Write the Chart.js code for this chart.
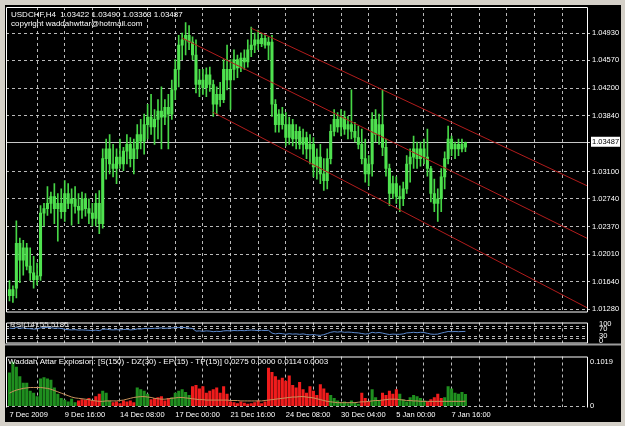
<!DOCTYPE html>
<html>
<head>
<meta charset="utf-8">
<title>USDCHF,H4</title>
<script src="https://cdn.jsdelivr.net/npm/chart.js@4/dist/chart.umd.min.js"></script>
<style>
  body { margin: 0; background: #d4d0c8; }
  #wrap { position: relative; width: 625px; height: 426px; overflow: hidden; background: #d4d0c8; }
  #black { position: absolute; left: 5px; top: 5px; width: 616px; height: 417px; background: #000; }
  canvas { position: absolute; left: 0; }
</style>
</head>
<body>
<div id="wrap">
  <div id="black"></div>
  <canvas id="priceChart" width="625" height="318" style="top:0px"></canvas>
  <canvas id="rsiChart" width="625" height="37" style="top:314px"></canvas>
  <canvas id="waeChart" width="625" height="77" style="top:349px"></canvas>
</div>
<script>
// USDCHF H4 candles, bar 0 = 7 Dec 2009 00:00
const open = [1.0154,1.0146,1.0156,1.0215,1.0193,1.0209,1.0185,1.0176,1.0167,1.0172,
  1.0255,1.0261,1.0268,1.0277,1.0261,1.0268,1.0257,1.0281,1.0268,1.0274,
  1.0264,1.0259,1.0274,1.0261,1.0255,1.0248,1.0268,1.0241,1.0327,1.0340,
  1.0320,1.0314,1.0329,1.0320,1.0337,1.0346,1.0327,1.0340,1.0359,1.0350,
  1.0372,1.0382,1.0369,1.0379,1.0390,1.0382,1.0395,1.0386,1.0418,1.0445,
  1.0477,1.0484,1.0490,1.0481,1.0464,1.0425,1.0431,1.0421,1.0438,1.0425,
  1.0399,1.0412,1.0405,1.0445,1.0431,1.0445,1.0458,1.0447,1.0460,1.0455,
  1.0471,1.0477,1.0484,1.0479,1.0486,1.0477,1.0481,1.0399,1.0372,1.0386,
  1.0372,1.0355,1.0372,1.0353,1.0363,1.0346,1.0355,1.0340,1.0346,1.0316,
  1.0329,1.0307,1.0298,1.0327,1.0363,1.0379,1.0369,1.0382,1.0366,1.0372,
  1.0363,1.0355,1.0346,1.0327,1.0307,1.0320,1.0379,1.0359,1.0372,1.0342,
  1.0314,1.0281,1.0294,1.0277,1.0274,1.0287,1.0320,1.0329,1.0340,1.0327,
  1.0340,1.0329,1.0314,1.0281,1.0268,1.0274,1.0303,1.0327,1.0353,1.0340,
  1.0346,1.0340,1.03422];
const high = [1.0166,1.0159,1.0245,1.0222,1.0219,1.0215,1.0209,1.0198,1.0189,1.0265,
  1.0268,1.0290,1.0283,1.0294,1.0281,1.0287,1.0298,1.0294,1.0287,1.0290,
  1.0281,1.0283,1.0281,1.0274,1.0268,1.0281,1.0285,1.0340,1.0353,1.0359,
  1.0346,1.0340,1.0353,1.0342,1.0359,1.0355,1.0353,1.0372,1.0379,1.0386,
  1.0399,1.0412,1.0392,1.0405,1.0422,1.0405,1.0412,1.0431,1.0458,1.0490,
  1.0493,1.0507,1.0503,1.0488,1.0484,1.0445,1.0445,1.0447,1.0448,1.0431,
  1.0422,1.0428,1.0458,1.0477,1.0458,1.0471,1.0464,1.0467,1.0471,1.0484,
  1.0501,1.0493,1.0497,1.0493,1.0490,1.0488,1.0490,1.0405,1.0392,1.0395,
  1.0388,1.0382,1.0379,1.0372,1.0369,1.0366,1.0362,1.0359,1.0355,1.0340,
  1.0346,1.0327,1.0340,1.0372,1.0392,1.0388,1.0392,1.0390,1.0383,1.0418,
  1.0375,1.0370,1.0366,1.0353,1.0331,1.0388,1.0392,1.0386,1.0418,1.0353,
  1.0320,1.0304,1.0303,1.0291,1.0296,1.0331,1.0340,1.0357,1.0349,1.0349,
  1.0353,1.0366,1.0317,1.0300,1.0287,1.0314,1.0336,1.0370,1.0357,1.0349,
  1.0353,1.0353,1.03490];
const low = [1.0139,1.0137,1.0143,1.0163,1.0173,1.0180,1.0166,1.0156,1.0160,1.0166,
  1.0238,1.0252,1.0255,1.0241,1.0218,1.0248,1.0244,1.0261,1.0239,1.0255,
  1.0241,1.0248,1.0251,1.0241,1.0238,1.0238,1.0228,1.0235,1.0300,1.0307,
  1.0303,1.0294,1.0314,1.0311,1.0320,1.0316,1.0307,1.0327,1.0340,1.0333,
  1.0353,1.0359,1.0346,1.0353,1.0340,1.0372,1.0340,1.0379,1.0405,1.0422,
  1.0458,1.0464,1.0471,1.0458,1.0414,1.0409,1.0412,1.0409,1.0416,1.0383,
  1.0386,1.0396,1.0401,1.0418,1.0392,1.0431,1.0434,1.0442,1.0445,1.0448,
  1.0462,1.0467,1.0471,1.0475,1.0473,1.0458,1.0383,1.0362,1.0362,1.0366,
  1.0344,1.0346,1.0344,1.0340,1.0340,1.0333,1.0327,1.0320,1.0303,1.0300,
  1.0294,1.0285,1.0287,1.0320,1.0357,1.0362,1.0357,1.0359,1.0353,1.0353,
  1.0349,1.0340,1.0320,1.0296,1.0291,1.0304,1.0349,1.0346,1.0331,1.0304,
  1.0265,1.0274,1.0268,1.0257,1.0265,1.0281,1.0296,1.0314,1.0314,1.0317,
  1.0320,1.0304,1.0270,1.0257,1.0244,1.0257,1.0287,1.0320,1.0331,1.0327,
  1.0331,1.0336,1.03363];
const close = [1.0146,1.0154,1.0215,1.0193,1.0209,1.0185,1.0176,1.0167,1.0172,1.0255,
  1.0261,1.0268,1.0277,1.0261,1.0268,1.0257,1.0281,1.0268,1.0274,1.0264,
  1.0259,1.0274,1.0261,1.0255,1.0248,1.0268,1.0241,1.0327,1.0340,1.0320,
  1.0314,1.0329,1.0320,1.0337,1.0346,1.0327,1.0340,1.0359,1.0350,1.0372,
  1.0382,1.0369,1.0379,1.0390,1.0382,1.0395,1.0386,1.0418,1.0445,1.0477,
  1.0484,1.0490,1.0481,1.0464,1.0425,1.0431,1.0421,1.0438,1.0425,1.0399,
  1.0412,1.0405,1.0445,1.0431,1.0445,1.0458,1.0447,1.0460,1.0455,1.0471,
  1.0477,1.0484,1.0479,1.0486,1.0477,1.0481,1.0399,1.0372,1.0386,1.0372,
  1.0355,1.0372,1.0353,1.0363,1.0346,1.0355,1.0340,1.0346,1.0316,1.0329,
  1.0307,1.0298,1.0327,1.0363,1.0379,1.0369,1.0382,1.0366,1.0372,1.0363,
  1.0355,1.0346,1.0327,1.0307,1.0320,1.0379,1.0359,1.0372,1.0342,1.0314,
  1.0281,1.0294,1.0277,1.0274,1.0287,1.0320,1.0329,1.0340,1.0327,1.0340,
  1.0329,1.0314,1.0281,1.0268,1.0274,1.0303,1.0327,1.0353,1.0340,1.0346,
  1.0340,1.0346,1.03487];

// channel drawn on the chart: [bar, price] at start and end
const channelUpper = [{ x: 70, y: 1.04995 }, { x: 168, y: 1.02895 }];
const channelMiddle = [{ x: 50, y: 1.04864 }, { x: 168, y: 1.02200 }];
const channelLower = [{ x: 59, y: 1.03882 }, { x: 168, y: 1.01281 }];

const priceTicks = [1.0493, 1.0457, 1.0420, 1.0384, 1.0310, 1.0274, 1.0237, 1.0201, 1.0164, 1.0128];
const lastPrice = 1.03487;

// RSI(14)
const rsi = [72,70,75,71,73,70,69,67,68,73,74,75,74,71,72,70,
  66,64,63,64,62,63,62,61,60,62,59,66,67,64,63,64,63,65,66,63,64,
  68,67,70,71,70,71,72,73,71,72,73,74,75,76,74,72,70,
  57,58,56,58,57,54,56,55,58,59,58,60,59,60,59,61,62,61,60,
  61,60,61,47,
  43,46,44,41,44,42,43,41,43,40,38,40,37,36,39,
  45,51,54,52,54,51,
  52,51,49,48,45,42,44,51,48,50,
  47,43,40,42,41,41,
  43,48,49,51,49,51,50,46,42,
  41,42,47,51,55,54,55,54,55,55.5185];
const rsiLevels = [80, 70, 30, 20];
const rsiScaleLabels = [100, 70, 30, 0];

// Waddah Attar Explosion
const n = null;
const waeUp = [0.077,0.1019,0.090,0.068,0.053,0.053,0.035,0.030,0.022,0.063,
  0.066,0.063,0.060,0.042,0.028,0.018,0.014,0.010,0.016,0.008,
  n,n,n,n,n,n,n,0.035,0.030,0.012,
  n,n,n,n,n,n,n,0.042,0.038,0.035,
  0.028,n,n,n,n,n,n,0.020,0.030,0.035,
  0.038,0.032,0.025,n,n,n,n,n,n,n,
  n,n,n,n,n,n,n,n,n,n,
  n,n,n,n,n,n,n,n,n,n,
  n,n,n,n,n,n,n,n,n,n,
  n,n,n,0.025,0.018,0.012,0.008,0.010,0.006,0.012,
  0.008,0.005,n,n,n,0.038,0.020,0.012,n,n,
  n,n,n,0.028,0.015,0.010,0.020,0.025,0.022,0.018,
  0.012,n,n,n,n,n,0.020,0.045,0.040,0.030,
  0.028,0.032,0.0275];
const waeDown = [n,n,n,n,n,n,n,n,n,n,
  n,n,n,n,n,n,n,n,n,n,
  0.012,0.015,0.014,0.018,0.012,0.022,0.028,n,n,n,
  0.008,0.010,0.006,0.012,0.010,0.012,0.008,n,n,n,
  n,0.015,0.018,0.020,0.022,0.012,0.018,n,n,n,
  n,n,n,0.045,0.048,0.040,0.045,0.030,0.035,0.038,
  0.042,0.030,0.045,0.028,0.010,0.008,0.006,0.010,0.007,0.005,
  0.006,0.008,0.012,0.006,0.010,0.088,0.078,0.068,0.060,0.065,
  0.058,0.070,0.048,0.042,0.055,0.038,0.030,0.045,0.035,0.025,
  0.050,0.040,0.030,n,n,n,n,n,n,n,
  n,n,0.030,0.018,0.010,n,n,n,0.030,0.025,
  0.035,0.028,0.038,n,n,n,n,n,n,n,
  n,0.010,0.015,0.020,0.028,0.018,n,n,n,n,
  n,n,n];
const waeExplosion = [0.030,0.034,0.037,0.039,0.041,0.042,0.043,0.043,0.043,0.043,0.042,
  0.041,0.039,0.036,0.033,0.030,0.027,0.024,0.021,0.019,0.018,
  0.017,0.016,0.015,0.013,0.012,0.011,0.011,0.012,0.012,0.012,
  0.012,0.013,0.014,0.016,0.018,0.020,0.021,0.022,0.022,0.021,
  0.020,0.018,0.017,0.016,0.016,0.017,0.018,0.019,0.020,0.020,
  0.019,0.018,0.017,0.016,0.015,0.015,0.014,0.014,0.014,0.014,
  0.014,0.014,0.014,0.013,0.013,0.013,0.012,0.012,0.012,0.012,
  0.012,0.012,0.012,0.013,0.014,0.015,0.016,0.017,0.018,0.019,
  0.020,0.021,0.021,0.022,0.022,0.021,0.020,0.019,0.017,0.015,
  0.013,0.011,0.010,0.009,0.008,0.008,0.008,0.008,0.008,0.008,
  0.009,0.010,0.010,0.011,0.012,0.013,0.013,0.014,0.015,0.016,
  0.016,0.016,0.015,0.014,0.013,0.013,0.012,0.012,0.011,0.011,
  0.011,0.011,0.011,0.011,0.011,0.011,0.011,0.011,0.011,0.011,0.011,0.0114];

const timeLabels = ['7 Dec 2009', '9 Dec 16:00', '14 Dec 08:00', '17 Dec 00:00', '21 Dec 16:00',
  '24 Dec 08:00', '30 Dec 04:00', '5 Jan 00:00', '7 Jan 16:00'];
const labelBars = [0, 16, 32, 48, 64, 80, 96, 112, 128];

// ---- shared look ----
const gridColor = 'rgba(205,205,205,0.9)';
const axisFont = { family: 'Liberation Sans', size: 7.5 };
const xMin = -1, xMax = 167.2;
const gridBars = [];
for (let b = 0; b <= 160; b += 8) gridBars.push(b);
const barIdx = open.map((v, i) => i);
const pad = { left: 6, right: 5 };

function timeAxis(showLabels) {
  return {
    type: 'linear', min: xMin, max: xMax, offset: false,
    afterBuildTicks: s => { s.ticks = gridBars.map(v => ({ value: v })); },
    afterFit: s => { s.height = showLabels ? 12 : 0; },
    grid: { offset: false, drawTicks: false, color: c => (c.tick && c.tick.value > 0) ? gridColor : 'transparent' },
    border: { display: false, dash: [3, 3] },
    ticks: {
      display: showLabels, autoSkip: false, maxRotation: 0, align: 'start', padding: 3,
      color: '#ffffff', font: axisFont,
      callback: v => { const k = labelBars.indexOf(v); return k >= 0 ? timeLabels[k] : ''; }
    }
  };
}

const paneFrame = {
  id: 'paneFrame',
  afterDraw(chart, args, opts) {
    const { left, top, right, bottom } = chart.chartArea;
    const ctx = chart.ctx;
    ctx.save();
    ctx.strokeStyle = '#ffffff';
    ctx.lineWidth = 1;
    ctx.beginPath();
    ctx.moveTo(left + 0.5, bottom + 0.5);
    ctx.lineTo(left + 0.5, top + 0.5);
    ctx.lineTo(right + 0.5, top + 0.5);
    ctx.lineTo(right + 0.5, bottom + 0.5);
    if (!opts.openBottom) ctx.lineTo(left + 0.5, bottom + 0.5);
    ctx.stroke();
    if (opts.separator) {
      // grey splitter under the pane, as in the terminal window
      ctx.fillStyle = '#9c9c9c';
      ctx.fillRect(left - 1, bottom + 1, chart.width - left - 3, 2);
    }
    ctx.restore();
  }
};

const paneText = {
  id: 'paneText',
  afterDraw(chart, args, opts) {
    const ctx = chart.ctx;
    ctx.save();
    ctx.font = '8px "Liberation Sans"';
    ctx.textBaseline = 'alphabetic';
    ctx.textAlign = 'left';
    (opts.lines || []).forEach(l => {
      ctx.fillStyle = l.color || '#ffffff';
      ctx.fillText(l.text, l.x, l.y);
    });
    ctx.restore();
  }
};

const common = {
  responsive: false, animation: false, devicePixelRatio: 1, events: []
};

// ---- price pane ----
new Chart(document.getElementById('priceChart'), {
  type: 'bar',
  plugins: [paneFrame, paneText],
  data: {
    datasets: [
      { type: 'line', data: channelUpper, borderColor: '#b21c1c', borderWidth: 1, pointRadius: 0 },
      { type: 'line', data: channelMiddle, borderColor: '#b21c1c', borderWidth: 1, pointRadius: 0 },
      { type: 'line', data: channelLower, borderColor: '#b21c1c', borderWidth: 1, pointRadius: 0 },
      { data: barIdx.map(i => ({ x: i, y: [open[i], close[i]] })), backgroundColor: '#4fe24f',
        barThickness: 2.4, minBarLength: 1, grouped: false },
      { data: barIdx.map(i => ({ x: i, y: [low[i], high[i]] })), backgroundColor: '#46d646',
        barThickness: 1, grouped: false }
    ]
  },
  options: {
    ...common,
    layout: { padding: { left: pad.left, right: pad.right, top: 7, bottom: 4 } },
    plugins: {
      legend: { display: false }, tooltip: { enabled: false },
      paneText: { lines: [
        { text: 'USDCHF,H4  1.03422 1.03490 1.03363 1.03487', x: 11, y: 17 },
        { text: 'copyright waddahwttar@hotmail.com', x: 11, y: 26 }
      ] }
    },
    scales: {
      x: timeAxis(false),
      y: {
        position: 'right', min: 1.0125, max: 1.05275,
        afterBuildTicks: s => { s.ticks = priceTicks.concat([lastPrice]).map(v => ({ value: v })); },
        afterFit: s => { s.width = 33; },
        grid: {
          color: c => (c.tick && c.tick.value === lastPrice) ? '#c8c8c8' : gridColor,
          tickColor: '#c8c8c8', tickLength: 3, tickBorderDash: []
        },
        border: { display: false, dash: c => (c.tick && c.tick.value === lastPrice) ? [] : [3, 3] },
        ticks: {
          font: axisFont, padding: 2, autoSkip: false,
          color: c => (c.tick && c.tick.value === lastPrice) ? '#000000' : '#ffffff',
          showLabelBackdrop: c => !!(c.tick && c.tick.value === lastPrice),
          backdropColor: '#ffffff', backdropPadding: { top: 1, bottom: 0, left: 1, right: 2 },
          callback: v => v.toFixed(5)
        }
      }
    }
  }
});

// ---- RSI pane ----
new Chart(document.getElementById('rsiChart'), {
  type: 'line',
  plugins: [paneFrame, paneText],
  data: {
    datasets: [{ data: barIdx.map(i => ({ x: i, y: rsi[i] })), yAxisID: 'yLevels',
      borderColor: '#5c8ad0', borderWidth: 1, pointRadius: 0 }]
  },
  options: {
    ...common,
    layout: { padding: { left: pad.left, right: pad.right, top: 2, bottom: 2 } },
    plugins: {
      legend: { display: false }, tooltip: { enabled: false },
      paneFrame: { separator: true },
      paneText: { lines: [{ text: 'RSI(14) 55.5185', x: 10, y: 12.5, color: '#e0e0e0' }] }
    },
    scales: {
      x: timeAxis(false),
      yLevels: {
        position: 'right', min: 0, max: 100,
        afterBuildTicks: s => { s.ticks = rsiLevels.map(v => ({ value: v })); },
        afterFit: s => { s.width = 0; },
        grid: { color: gridColor, drawTicks: false },
        border: { display: false, dash: [3, 3] },
        ticks: { display: false }
      },
      y: {
        position: 'right', min: -12, max: 112,
        afterBuildTicks: s => { s.ticks = rsiScaleLabels.map(v => ({ value: v })); },
        afterFit: s => { s.width = 33; },
        grid: { display: false },
        border: { display: false },
        ticks: { font: axisFont, color: '#ffffff', padding: 4, autoSkip: false, callback: v => String(v) }
      }
    }
  }
});

// ---- Waddah Attar Explosion pane ----
new Chart(document.getElementById('waeChart'), {
  type: 'bar',
  plugins: [paneFrame, paneText],
  data: {
    datasets: [
      { type: 'line', data: barIdx.map(i => ({ x: i, y: waeExplosion[i] })),
        borderColor: '#c9925c', borderWidth: 1, pointRadius: 0 },
      { data: barIdx.map(i => ({ x: i, y: waeUp[i] })), backgroundColor: '#1f8f1f',
        barThickness: 2.4, grouped: false },
      { data: barIdx.map(i => ({ x: i, y: waeDown[i] })), backgroundColor: '#f01c1c',
        barThickness: 2.4, grouped: false }
    ]
  },
  options: {
    ...common,
    layout: { padding: { left: pad.left, right: pad.right, top: 3, bottom: 7 } },
    plugins: {
      legend: { display: false }, tooltip: { enabled: false },
      paneFrame: { openBottom: true },
      paneText: { lines: [{ text: 'Waddah Attar Explosion: [S(150) - DZ(30) - EP(15) - TP(15)] 0.0275 0.0000 0.0114 0.0003', x: 8, y: 14.5 }] }
    },
    scales: {
      x: timeAxis(true),
      y: {
        position: 'right', min: -0.002, max: 0.1145,
        afterBuildTicks: s => { s.ticks = [0, 0.1019].map(v => ({ value: v })); },
        afterFit: s => { s.width = 33; },
        grid: { color: c => (c.tick && c.tick.value === 0) ? gridColor : 'transparent', drawTicks: false },
        border: { display: false, dash: [3, 3] },
        ticks: { font: axisFont, color: '#ffffff', padding: 3, autoSkip: false, callback: v => v === 0 ? '0' : v.toFixed(4) }
      }
    }
  }
});
</script>
</body>
</html>
